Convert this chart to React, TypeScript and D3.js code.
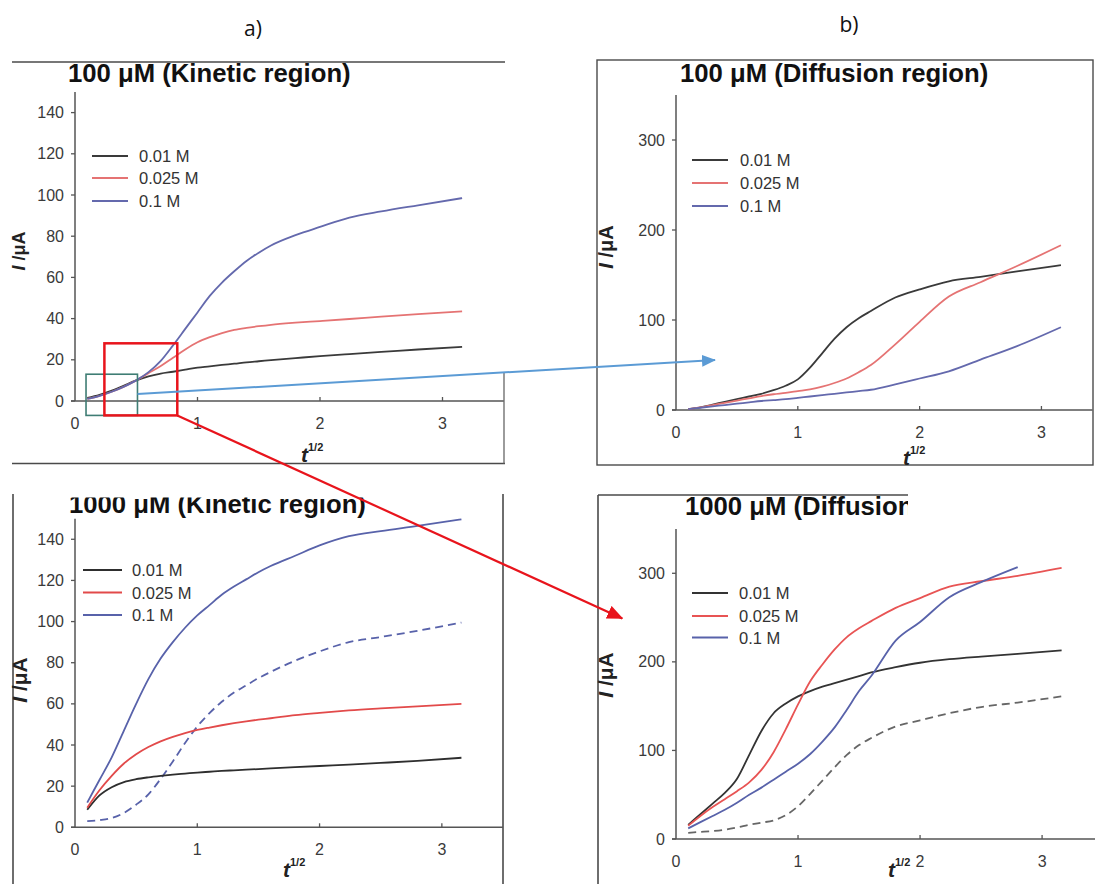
import React from "react";
import * as d3 from "d3";

// shared sample points (t^1/2)
const X = [0.1, 0.2, 0.3, 0.4, 0.5, 0.6, 0.7, 0.8, 0.9, 1.0, 1.1, 1.2, 1.3, 1.4, 1.5, 1.6, 1.8, 2.0, 2.24, 2.5, 2.8, 3.16];
const legendLabels = ["0.01 M", "0.025 M", "0.1 M"];

// a) 100 µM kinetic region
const kin100_001 = [1.5, 3, 5, 7.5, 10, 12, 13.3, 14.2, 15.2, 16.2, 16.8, 17.5, 18.1, 18.8, 19.3, 19.8, 20.8, 21.8, 22.8, 23.8, 25, 26.3];
const kin100_0025 = [1, 2.5, 4.5, 7, 10, 13.5, 17, 21, 25, 28.5, 31, 33, 34.5, 35.5, 36.3, 37, 38, 38.8, 39.8, 41, 42.2, 43.5];
const kin100_01 = [1, 2.5, 4.5, 7, 10, 14, 19.5, 27, 35, 43, 51, 57.5, 63, 68, 72, 75.5, 80.5, 84.5, 89, 92, 95, 98.5];

// b) 100 µM diffusion region
const dif100_001 = [1, 3, 6, 9, 12, 15, 18, 22, 27, 34, 47, 63, 79, 92, 102, 110, 125, 134, 143, 148, 154, 161];
const dif100_0025 = [1, 3, 5.5, 8, 10.5, 13, 15.5, 17.5, 19, 21, 23, 26, 30, 35, 42, 50, 73, 98, 126, 142, 160, 183];
const dif100_01 = [1, 2.5, 4, 5.5, 7, 8.5, 10, 11, 12, 13.5, 15, 16.5, 18, 19.5, 21, 22.5, 28.5, 35, 43, 56, 71, 92];

// a) 1000 µM kinetic region
const kin1000_001 = [8.5, 15.5, 19.5, 22, 23.4, 24.3, 25, 25.6, 26.1, 26.6, 27, 27.4, 27.7, 28, 28.3, 28.6, 29.2, 29.8, 30.5, 31.3, 32.3, 33.8];
const kin1000_0025 = [9.5, 18, 25, 31, 35.5, 39, 41.8, 44, 45.8, 47.3, 48.5, 49.6, 50.6, 51.5, 52.3, 53, 54.5, 55.6, 56.8, 57.8, 58.8, 60];
const kin1000_01 = [12, 23, 34, 47, 60, 72, 82, 90, 97, 103, 108, 113, 117, 120.5, 124, 127, 132, 137, 141.5, 144, 146.5, 149.7];
const kin1000_ref = [3, 3.5, 4.5, 7, 11, 16, 23.5, 32, 41, 49, 55.5, 61, 65.5, 69, 72.5, 75.5, 81, 85.5, 90, 92.5, 95.5, 99.5];

// b) 1000 µM diffusion region
const dif1000_001 = [16, 28, 40, 52, 68, 95, 122, 142, 153, 161, 167, 172, 176, 180, 184, 188, 194, 199, 203, 206, 209, 213];
const dif1000_0025 = [15, 26, 36, 45, 54, 64, 78, 98, 124, 152, 178, 197, 214, 228, 238, 246, 261, 272, 285, 291, 297, 306];
const dif1000_01 = [12, 19, 26, 33, 41, 50, 58, 67, 76, 85, 96, 110, 126, 146, 167, 184, 224, 245, 273, 290, 307, null];
const dif1000_ref = [7, 8, 9, 10.5, 13, 16, 18.5, 21, 27, 37, 51, 66, 81, 95, 106, 114, 127, 134, 142, 149, 154, 161];

const kinYTicks = [0, 20, 40, 60, 80, 100, 120, 140];
const difYTicks = [0, 100, 200, 300];
const xTicks = [0, 1, 2, 3];

// annotation anchors (data coordinates of their panels)
const greenBox = { x0: 0.09, x1: 0.51, y0: -7, y1: 13 };
const redBox = { x0: 0.24, x1: 0.835, y0: -7, y1: 28 };
const blueArrow = { from: [0.51, 3.4], to: [0.32, 55.5] };
const redArrow = { from: [0.835, -7], to: [-0.44, 249] };

const FONT = "'Liberation Sans', Arial, Helvetica, sans-serif";

type Series = { values: (number | null)[]; color: string; dash?: string; legend?: number };
type PanelDef = {
  title: string;
  titleX: number;
  titleY: number;
  titleClip?: [number, number, number, number];
  xRange: [number, number];
  xMax: number;
  yRange: [number, number];
  yMax: number;
  yTicks: number[];
  series: Series[];
  legend: { x0: number; x1: number; tx: number; ys: number[] };
  ylab: { x: number; y: number; size: number };
  xlab: { x: number; y: number };
};

const BLK = "#3a3a3a";
const RED1 = "#e57373";
const BLU1 = "#6469ad";
const RED2 = "#e24a4a";
const BLU2 = "#5862aa";

const panels: PanelDef[] = [
  {
    title: "100 μM (Kinetic region)", titleX: 68, titleY: 82,
    xRange: [75, 503.75], xMax: 3.5, yRange: [401, 92], yMax: 150, yTicks: kinYTicks,
    series: [
      { values: kin100_001, color: BLK, legend: 0 },
      { values: kin100_0025, color: RED1, legend: 1 },
      { values: kin100_01, color: BLU1, legend: 2 },
    ],
    legend: { x0: 92, x1: 128, tx: 139, ys: [156, 178, 201] },
    ylab: { x: 19, y: 251, size: 18 },
    xlab: { x: 301, y: 462 },
  },
  {
    title: "100 μM (Diffusion region)", titleX: 680, titleY: 82,
    xRange: [676, 1092.6], xMax: 3.42, yRange: [410, 95], yMax: 350, yTicks: difYTicks,
    series: [
      { values: dif100_001, color: BLK, legend: 0 },
      { values: dif100_0025, color: RED1, legend: 1 },
      { values: dif100_01, color: BLU1, legend: 2 },
    ],
    legend: { x0: 692, x1: 728, tx: 740, ys: [160, 183, 206] },
    ylab: { x: 606, y: 247, size: 20 },
    xlab: { x: 903, y: 465 },
  },
  {
    title: "1000 μM (Kinetic region)", titleX: 69, titleY: 513, titleClip: [0, 497.5, 600, 60],
    xRange: [75, 503], xMax: 3.5, yRange: [827.3, 518.7], yMax: 150, yTicks: kinYTicks,
    series: [
      { values: kin1000_ref, color: BLU2, dash: "8,5" },
      { values: kin1000_001, color: "#2e2e2e", legend: 0 },
      { values: kin1000_0025, color: RED2, legend: 1 },
      { values: kin1000_01, color: BLU2, legend: 2 },
    ],
    legend: { x0: 83, x1: 122, tx: 132, ys: [570, 592.5, 615] },
    ylab: { x: 20, y: 680, size: 21 },
    xlab: { x: 283, y: 877 },
  },
  {
    title: "1000 μM (Diffusion region)", titleX: 685, titleY: 515, titleClip: [590, 480, 318, 60],
    xRange: [676, 1097], xMax: 3.45, yRange: [839, 529], yMax: 350, yTicks: difYTicks,
    series: [
      { values: dif1000_ref, color: "#666666", dash: "8,5" },
      { values: dif1000_001, color: "#333333", legend: 0 },
      { values: dif1000_0025, color: "#e85454", legend: 1 },
      { values: dif1000_01, color: BLU2, legend: 2 },
    ],
    legend: { x0: 692, x1: 728, tx: 739, ys: [593, 616, 637.5] },
    ylab: { x: 606, y: 675, size: 21 },
    xlab: { x: 888, y: 877 },
  },
];

function Panel({ p, idx }: { p: PanelDef; idx: number }) {
  const x = d3.scaleLinear().domain([0, p.xMax]).range(p.xRange);
  const y = d3.scaleLinear().domain([0, p.yMax]).range(p.yRange);
  const line = d3
    .line<number | null>()
    .defined((v) => v != null)
    .x((_, i) => x(X[i]))
    .y((v) => y(v as number))
    .curve(d3.curveMonotoneX);
  const axisColor = "#555";
  const legendColors: string[] = [];
  p.series.forEach((s) => {
    if (s.legend != null) legendColors[s.legend] = s.color;
  });
  const clipId = `tclip${idx}`;
  return (
    <g>
      {p.titleClip && (
        <defs>
          <clipPath id={clipId}>
            <rect x={p.titleClip[0]} y={p.titleClip[1]} width={p.titleClip[2]} height={p.titleClip[3]} />
          </clipPath>
        </defs>
      )}
      <text
        x={p.titleX}
        y={p.titleY}
        fontFamily={FONT}
        fontWeight="bold"
        fontSize={25.7}
        fill="#111"
        clipPath={p.titleClip ? `url(#${clipId})` : undefined}
      >
        {p.title}
      </text>
      {/* axes */}
      <line x1={x(0)} x2={x(0)} y1={y(0)} y2={y(p.yMax)} stroke={axisColor} strokeWidth={1.5} />
      <line x1={x(0) - 4} x2={x(p.xMax)} y1={y(0)} y2={y(0)} stroke={axisColor} strokeWidth={1.5} />
      {p.yTicks.map((t) => (
        <g key={"y" + t}>
          <line x1={x(0) - 4} x2={x(0)} y1={y(t)} y2={y(t)} stroke={axisColor} strokeWidth={1.3} />
          <text x={x(0) - 11} y={y(t) + 5.5} textAnchor="end" fontFamily={FONT} fontSize={16} fill="#3a3a3a">
            {t}
          </text>
        </g>
      ))}
      {xTicks.map((t) => (
        <g key={"x" + t}>
          {t > 0 && <line x1={x(t)} x2={x(t)} y1={y(0)} y2={y(0) - 4} stroke={axisColor} strokeWidth={1.3} />}
          <text x={x(t)} y={y(0) + 28} textAnchor="middle" fontFamily={FONT} fontSize={16} fill="#3a3a3a">
            {t}
          </text>
        </g>
      ))}
      {/* series */}
      {p.series.map((s, i) => (
        <path
          key={i}
          d={line(s.values) || ""}
          fill="none"
          stroke={s.color}
          strokeWidth={1.8}
          strokeDasharray={s.dash}
        />
      ))}
      {/* legend */}
      {legendLabels.map((lab, i) => (
        <g key={lab}>
          <line
            x1={p.legend.x0}
            x2={p.legend.x1}
            y1={p.legend.ys[i]}
            y2={p.legend.ys[i]}
            stroke={legendColors[i]}
            strokeWidth={1.8}
          />
          <text x={p.legend.tx} y={p.legend.ys[i] + 6} fontFamily={FONT} fontSize={16.5} fill="#333">
            {lab}
          </text>
        </g>
      ))}
      {/* y label */}
      <text
        transform={`translate(${p.ylab.x},${p.ylab.y}) rotate(-90)`}
        textAnchor="middle"
        fontFamily={FONT}
        fontWeight="bold"
        fontSize={p.ylab.size}
        fill="#222"
        dy="0.35em"
      >
        <tspan fontStyle="italic">I</tspan>
        <tspan> /μA</tspan>
      </text>
      {/* x label */}
      <text x={p.xlab.x} y={p.xlab.y} fontFamily={FONT} fontWeight="bold" fontSize={21} fill="#222">
        <tspan fontStyle="italic">t</tspan>
        <tspan fontSize={11} dy={-11} fontWeight="bold">1/2</tspan>
      </text>
    </g>
  );
}

export default function App() {
  const [p1, p2, p3, p4] = panels;
  const x1 = d3.scaleLinear().domain([0, p1.xMax]).range(p1.xRange);
  const y1 = d3.scaleLinear().domain([0, p1.yMax]).range(p1.yRange);
  const x2 = d3.scaleLinear().domain([0, p2.xMax]).range(p2.xRange);
  const y2 = d3.scaleLinear().domain([0, p2.yMax]).range(p2.yRange);
  const x4 = d3.scaleLinear().domain([0, p4.xMax]).range(p4.xRange);
  const y4 = d3.scaleLinear().domain([0, p4.yMax]).range(p4.yRange);
  const frame = "#4a4a4a";
  return (
    <svg
      width={1095}
      height={884}
      viewBox="0 0 1095 884"
      style={{ position: "absolute", left: 0, top: 0, background: "#fff" }}
    >
      <defs>
        <marker id="headBlue" markerUnits="userSpaceOnUse" markerWidth={14} markerHeight={12} refX={13} refY={6} orient="auto">
          <path d="M0,0 L14,6 L0,12 Z" fill="#5b9bd5" />
        </marker>
        <marker id="headRed" markerUnits="userSpaceOnUse" markerWidth={16} markerHeight={14} refX={15} refY={7} orient="auto">
          <path d="M0,0 L16,7 L0,14 Z" fill="#e8141c" />
        </marker>
      </defs>
      <rect x={0} y={0} width={1095} height={884} fill="#fff" />
      <text x={253} y={36} textAnchor="middle" fontFamily="'Open Sans', 'DejaVu Sans', sans-serif" fontSize={21} fill="#111">a)</text>
      <text x={849} y={32} textAnchor="middle" fontFamily="'Open Sans', 'DejaVu Sans', sans-serif" fontSize={21} fill="#111">b)</text>

      {/* frames */}
      <line x1={12} x2={505} y1={62} y2={62} stroke={frame} strokeWidth={1.6} />
      <line x1={12} x2={505} y1={463.5} y2={463.5} stroke={frame} strokeWidth={1.6} />
      <line x1={504} x2={504} y1={372} y2={463.5} stroke="#666" strokeWidth={1.3} />
      <rect x={597} y={60} width={496} height={405} fill="none" stroke={frame} strokeWidth={1.4} />
      <line x1={13} x2={13} y1={494} y2={884} stroke={frame} strokeWidth={1.6} />
      <line x1={503} x2={503} y1={494} y2={884} stroke={frame} strokeWidth={1.6} />
      <line x1={598} x2={908} y1={495} y2={495} stroke={frame} strokeWidth={1.6} />
      <line x1={598} x2={598} y1={495} y2={884} stroke={frame} strokeWidth={1.6} />

      {panels.map((p, i) => (
        <Panel key={i} p={p} idx={i} />
      ))}

      {/* zoom boxes in panel a) 100 µM */}
      <rect
        x={x1(greenBox.x0)}
        y={y1(greenBox.y1)}
        width={x1(greenBox.x1) - x1(greenBox.x0)}
        height={y1(greenBox.y0) - y1(greenBox.y1)}
        fill="none"
        stroke="#3f7d74"
        strokeWidth={1.6}
      />
      <rect
        x={x1(redBox.x0)}
        y={y1(redBox.y1)}
        width={x1(redBox.x1) - x1(redBox.x0)}
        height={y1(redBox.y0) - y1(redBox.y1)}
        fill="none"
        stroke="#e8141c"
        strokeWidth={2.5}
      />
      <line
        x1={x1(blueArrow.from[0])}
        y1={y1(blueArrow.from[1])}
        x2={x2(blueArrow.to[0])}
        y2={y2(blueArrow.to[1])}
        stroke="#5b9bd5"
        strokeWidth={2}
        markerEnd="url(#headBlue)"
      />
      <line
        x1={x1(redArrow.from[0])}
        y1={y1(redArrow.from[1])}
        x2={x4(redArrow.to[0])}
        y2={y4(redArrow.to[1])}
        stroke="#e8141c"
        strokeWidth={2.2}
        markerEnd="url(#headRed)"
      />
    </svg>
  );
}
